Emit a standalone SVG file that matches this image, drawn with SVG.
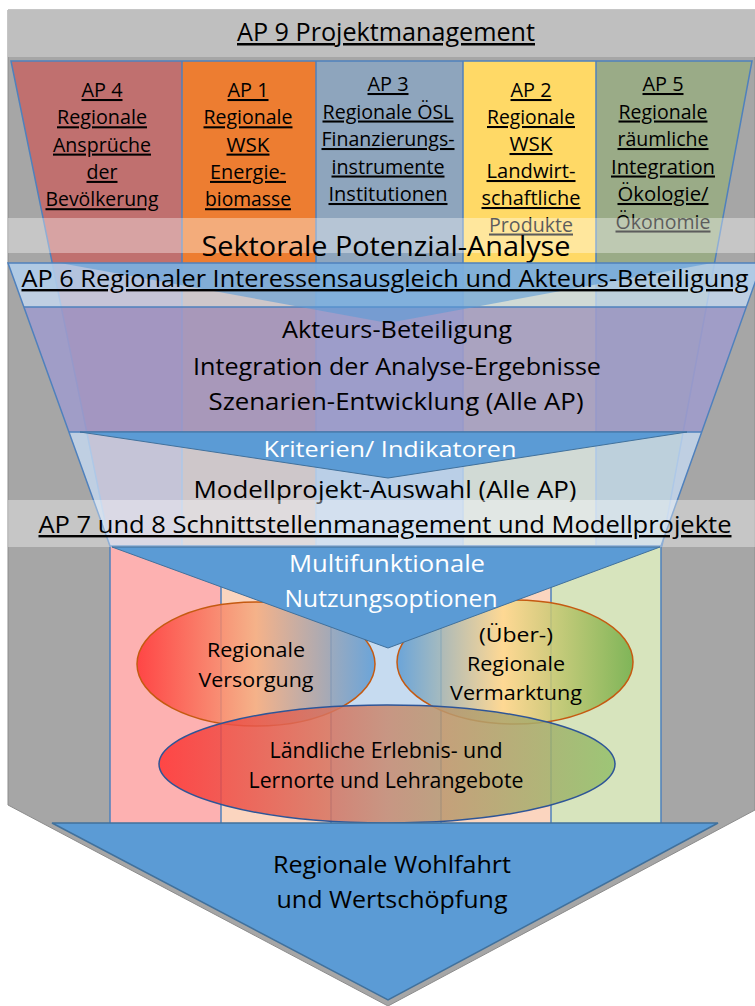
<svg xmlns="http://www.w3.org/2000/svg" width="755" height="1006" viewBox="0 0 755 1006">
<defs>
<style>
text{font-family:'Open Sans','Noto Sans',Lato,'Liberation Sans',sans-serif;text-anchor:middle;fill:#000}
.u{text-decoration:underline;text-decoration-thickness:1.6px;text-underline-offset:2px}
.c{font-size:20.5px}
.h{font-size:24px}
.w{fill:#fff}
.e{font-size:20.5px}
.colline{stroke:#4f81bd;stroke-width:1.5;fill:none}
.band{fill:#fff;opacity:0.36}
</style>
<clipPath id="topClip"><polygon points="11,61 752,61 662,546 110,546"/></clipPath>
<clipPath id="funnelClip"><polygon points="8,263 762,263 661,546 110,546"/></clipPath>
<linearGradient id="gV" x1="0" x2="1" y1="0" y2="0">
<stop offset="0" stop-color="#ff3333"/><stop offset="0.5" stop-color="#f4ac80"/><stop offset="1" stop-color="#5b9bd5"/>
</linearGradient>
<linearGradient id="gM" x1="0" x2="1" y1="0" y2="0">
<stop offset="0" stop-color="#5b9bd5"/><stop offset="0.45" stop-color="#ffd98c"/><stop offset="1" stop-color="#70ad47"/>
</linearGradient>
<linearGradient id="gL" x1="0" x2="1" y1="0" y2="0">
<stop offset="0" stop-color="#ff3333"/><stop offset="0.5" stop-color="#c88a70"/><stop offset="1" stop-color="#93c06a"/>
</linearGradient>
</defs>

<!-- background -->
<g id="background">
<polygon points="8,10 755,10 755,810 388,1006 8,805" fill="#a6a6a6" stroke="#8c8c8c" stroke-width="1"/>
<rect x="8" y="10" width="747" height="47" fill="#bfbfbf"/>
</g>

<g id="ap9">
<text class="u" x="386" y="41" style="font-size:25px" textLength="298" lengthAdjust="spacingAndGlyphs">AP 9 Projektmanagement</text>
</g>

<!-- upper columns -->
<g id="columns-top" clip-path="url(#topClip)">
<rect x="8" y="61" width="174" height="486" fill="#c0706f"/>
<rect x="182" y="61" width="134" height="486" fill="#ed7d31"/>
<rect x="316" y="61" width="147" height="486" fill="#8ea5bd"/>
<rect x="463" y="61" width="133" height="486" fill="#ffd966"/>
<rect x="596" y="61" width="159" height="486" fill="#9aab87"/>
<path class="colline" d="M182,61V546M316,61V546M463,61V546M596,61V546"/>
</g>
<polygon points="11,61 752,61 662,546 110,546" class="colline"/>

<g id="ap4">
<text class="c u" x="102" y="97" textLength="41" lengthAdjust="spacingAndGlyphs">AP 4</text>
<text class="c u" x="102" y="124.3" textLength="90" lengthAdjust="spacingAndGlyphs">Regionale</text>
<text class="c u" x="102" y="151.6" textLength="98" lengthAdjust="spacingAndGlyphs">Ansprüche</text>
<text class="c u" x="102" y="178.9" textLength="31" lengthAdjust="spacingAndGlyphs">der</text>
<text class="c u" x="102" y="206.2" textLength="113" lengthAdjust="spacingAndGlyphs">Bevölkerung</text>
</g>
<g id="ap1">
<text class="c u" x="248" y="97" textLength="41" lengthAdjust="spacingAndGlyphs">AP 1</text>
<text class="c u" x="248" y="124.3" textLength="89" lengthAdjust="spacingAndGlyphs">Regionale</text>
<text class="c u" x="248" y="151.6" textLength="43" lengthAdjust="spacingAndGlyphs">WSK</text>
<text class="c u" x="248" y="178.9" textLength="76" lengthAdjust="spacingAndGlyphs">Energie-</text>
<text class="c u" x="248" y="206.2" textLength="86" lengthAdjust="spacingAndGlyphs">biomasse</text>
</g>
<g id="ap3">
<text class="c u" x="388" y="91" textLength="41" lengthAdjust="spacingAndGlyphs">AP 3</text>
<text class="c u" x="388" y="118.5" textLength="131" lengthAdjust="spacingAndGlyphs">Regionale ÖSL</text>
<text class="c u" x="388" y="146" textLength="133" lengthAdjust="spacingAndGlyphs">Finanzierungs-</text>
<text class="c u" x="388" y="173.5" textLength="113" lengthAdjust="spacingAndGlyphs">instrumente</text>
<text class="c u" x="388" y="201" textLength="119" lengthAdjust="spacingAndGlyphs">Institutionen</text>
</g>
<g id="ap2">
<text class="c u" x="531" y="97" textLength="41" lengthAdjust="spacingAndGlyphs">AP 2</text>
<text class="c u" x="531" y="124" textLength="88" lengthAdjust="spacingAndGlyphs">Regionale</text>
<text class="c u" x="531" y="151" textLength="43" lengthAdjust="spacingAndGlyphs">WSK</text>
<text class="c u" x="531" y="178" textLength="89" lengthAdjust="spacingAndGlyphs">Landwirt-</text>
<text class="c u" x="531" y="205" textLength="99" lengthAdjust="spacingAndGlyphs">schaftliche</text>
<text class="c u" x="531" y="231.5" textLength="84" lengthAdjust="spacingAndGlyphs">Produkte</text>
</g>
<g id="ap5">
<text class="c u" x="663" y="91" textLength="41" lengthAdjust="spacingAndGlyphs">AP 5</text>
<text class="c u" x="663" y="118.5" textLength="89" lengthAdjust="spacingAndGlyphs">Regionale</text>
<text class="c u" x="663" y="146" textLength="91" lengthAdjust="spacingAndGlyphs">räumliche</text>
<text class="c u" x="663" y="173.5" textLength="104" lengthAdjust="spacingAndGlyphs">Integration</text>
<text class="c u" x="663" y="201" textLength="91" lengthAdjust="spacingAndGlyphs">Ökologie/</text>
<text class="c u" x="663" y="228.5" textLength="95" lengthAdjust="spacingAndGlyphs">Ökonomie</text>
</g>

<g id="sektorale">
<rect class="band" x="8" y="218" width="747" height="35"/>
<text x="386" y="256" style="font-size:27px" textLength="369" lengthAdjust="spacingAndGlyphs">Sektorale Potenzial-Analyse</text>
</g>

<!-- lower funnel -->
<g id="funnel">
<polygon points="8,263 762,263 661,546 110,546" fill="#c6d9f1" opacity="0.8"/>
<g clip-path="url(#funnelClip)">
<rect x="8" y="263" width="747" height="27" fill="#9dc3e6" opacity="0.45"/>
<polygon points="8,307 755,307 755,432 8,432" fill="#7a5fa6" opacity="0.45"/>
<path d="M8,307H755M8,432H755" stroke="#4f81bd" stroke-width="1.5"/>
</g>
<polygon points="60,263 712,263 388,323" fill="#5b9bd5" opacity="0.6"/>
<polygon points="80,432 687,432 388,478" fill="#5b9bd5" stroke="#41719c" stroke-width="1"/>
<polygon points="8,263 762,263 661,546 110,546" fill="none" stroke="#4f81bd" stroke-width="1.5"/>
</g>

<g id="ap6">
<text class="h u" x="385" y="287" textLength="727" lengthAdjust="spacingAndGlyphs">AP 6 Regionaler Interessensausgleich und Akteurs-Beteiligung</text>
</g>
<g id="integration">
<text class="h" x="397" y="338" textLength="230" lengthAdjust="spacingAndGlyphs">Akteurs-Beteiligung</text>
<text class="h" x="397" y="375" textLength="408" lengthAdjust="spacingAndGlyphs">Integration der Analyse-Ergebnisse</text>
<text class="h" x="396" y="410" textLength="375" lengthAdjust="spacingAndGlyphs">Szenarien-Entwicklung (Alle AP)</text>
</g>
<g id="kriterien">
<text class="w" x="390" y="457" style="font-size:22px" textLength="253" lengthAdjust="spacingAndGlyphs">Kriterien/ Indikatoren</text>
</g>
<g id="modellprojekt">
<text class="h" x="385" y="498" textLength="383" lengthAdjust="spacingAndGlyphs">Modellprojekt-Auswahl (Alle AP)</text>
</g>
<g id="ap78">
<rect class="band" x="8" y="500" width="747" height="47"/>
<text class="h u" x="385" y="533" textLength="693" lengthAdjust="spacingAndGlyphs">AP 7 und 8 Schnittstellenmanagement und Modellprojekte</text>
</g>

<!-- lower columns -->
<g id="columns-bottom">
<rect x="110" y="547" width="111" height="276" fill="#fdb1b1"/>
<rect x="221" y="547" width="110" height="276" fill="#fbd5bf"/>
<rect x="331" y="547" width="110" height="276" fill="#c6dbf0"/>
<rect x="441" y="547" width="110" height="276" fill="#fbd5bf"/>
<rect x="551" y="547" width="110" height="276" fill="#d7e4bd"/>
<path class="colline" d="M110,547V823M221,547V823M331,547V823M441,547V823M551,547V823M661,547V823"/>
</g>

<g id="versorgung">
<ellipse cx="256" cy="664" rx="119" ry="62" fill="url(#gV)" fill-opacity="0.85" stroke="#c55a11" stroke-width="1.5"/>
</g>
<g id="vermarktung">
<ellipse cx="515" cy="662" rx="118" ry="62" fill="url(#gM)" fill-opacity="0.85" stroke="#c55a11" stroke-width="1.5"/>
</g>
<g id="multifunktional">
<polygon points="112,547 660,547 388,648" fill="#5b9bd5" stroke="#41719c" stroke-width="1"/>
<text class="w" x="387" y="572" style="font-size:24.5px" textLength="196" lengthAdjust="spacingAndGlyphs">Multifunktionale</text>
<text class="w" x="391" y="607" style="font-size:24.5px" textLength="213" lengthAdjust="spacingAndGlyphs">Nutzungsoptionen</text>
</g>
<g id="laendlich">
<ellipse cx="387" cy="764" rx="228" ry="59" fill="url(#gL)" fill-opacity="0.85" stroke="#2e5597" stroke-width="1.5"/>
<text x="386" y="758" style="font-size:22px" textLength="233" lengthAdjust="spacingAndGlyphs">Ländliche Erlebnis- und</text>
<text x="386" y="788" style="font-size:22px" textLength="275" lengthAdjust="spacingAndGlyphs">Lernorte und Lehrangebote</text>
</g>
<g id="versorgung-text">
<text class="e" x="256" y="657" textLength="98" lengthAdjust="spacingAndGlyphs">Regionale</text>
<text class="e" x="256" y="687" textLength="115" lengthAdjust="spacingAndGlyphs">Versorgung</text>
</g>
<g id="vermarktung-text">
<text class="e" x="516" y="642" textLength="74" lengthAdjust="spacingAndGlyphs">(Über-)</text>
<text class="e" x="516" y="671" textLength="98" lengthAdjust="spacingAndGlyphs">Regionale</text>
<text class="e" x="516" y="700" textLength="132" lengthAdjust="spacingAndGlyphs">Vermarktung</text>
</g>

<g id="wohlfahrt">
<polygon points="52,823 718,823 388,1000" fill="#5b9bd5" stroke="#41719c" stroke-width="1.5"/>
<text x="392" y="873" style="font-size:24.5px" textLength="238" lengthAdjust="spacingAndGlyphs">Regionale Wohlfahrt</text>
<text x="392" y="908" style="font-size:24.5px" textLength="231" lengthAdjust="spacingAndGlyphs">und Wertschöpfung</text>
</g>
</svg>
